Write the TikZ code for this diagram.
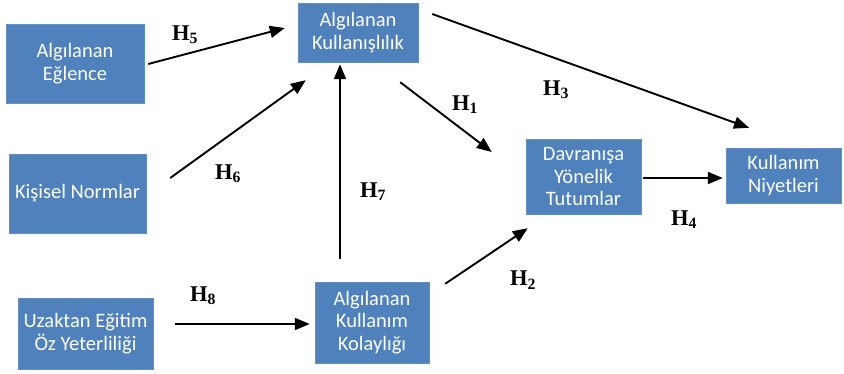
\documentclass[tikz,border=0pt]{standalone}
\usepackage{fontspec}
\setmainfont{Liberation Serif}
\setsansfont{Carlito}
\usepackage{tikz}
\usetikzlibrary{arrows.meta,positioning,calc}
\definecolor{boxblue}{RGB}{79,129,189}

\begin{document}
\begin{tikzpicture}[x=1pt,y=-1pt,
    box/.style={draw=boxblue!90!white,fill=boxblue,text=white,align=center,
      inner sep=0pt,font=\sffamily\fontsize{20.5}{22.5}\selectfont},
    arr/.style={-{Triangle[length=15pt,width=12pt]},line width=1.9pt},
    hlab/.style={font=\bfseries\fontsize{22.5}{24}\selectfont}
  ]
    \useasboundingbox (0,0) rectangle (844,373);
    \node[box,minimum width=138pt,minimum height=79pt] (eg) at (75,63.5) {Algılanan\\Eğlence};
    \node[box,minimum width=120pt,minimum height=59pt] (ku) at (358,32.5) {Algılanan\\Kullanışlılık};
    \node[box,minimum width=137pt,minimum height=79pt] (kn) at (77.5,193.5) {Kişisel Normlar};
    \node[box,minimum width=135pt,minimum height=71pt] (uz) at (85.5,333.5) {Uzaktan Eğitim\\Öz Yeterliliği};
    \node[box,minimum width=114pt,minimum height=81pt] (ko) at (372,322.5) {Algılanan\\Kullanım\\Kolaylığı};
    \node[box,minimum width=115pt,minimum height=75pt] (dt) at (583.5,176.5) {Davranışa\\Yönelik\\Tutumlar};
    \node[box,minimum width=115pt,minimum height=55pt] (kni) at (783.5,175.5) {Kullanım\\Niyetleri};
    \draw[arr] ([shift={(4,0.5)}]eg.east) -- ([shift={(-13,-4.5)}]ku.west);
    \draw[arr] ([shift={(24,-15.5)}]kn.east) -- ([shift={(8,18)}]ku.south west);
    \draw[arr] ([shift={(-32,-23)}]ko.north) -- ([shift={(-18,2)}]ku.south);
    \draw[arr] ([shift={(-18,20)}]ku.south east) -- ([shift={(-34,-24.5)}]dt.west);
    \draw[arr] ([shift={(14,-18.5)}]ku.east) -- ([shift={(-34.5,-20)}]kni.north);
    \draw[arr] ([shift={(2,1.5)}]dt.east) -- ([shift={(-3,2.5)}]kni.west);
    \draw[arr] ([shift={(16,2)}]ko.north east) -- ([shift={(2,14)}]dt.south west);
    \draw[arr] ([shift={(22,-9.5)}]uz.east) -- ([shift={(-5,1.5)}]ko.west);
    \node[hlab] (h5) at (185,35) {H\textsubscript{5}};
    \node[hlab] (h6) at (228,174) {H\textsubscript{6}};
    \node[hlab] (h7) at (373,192) {H\textsubscript{7}};
    \node[hlab] (h1) at (465,105) {H\textsubscript{1}};
    \node[hlab] (h3) at (556,90) {H\textsubscript{3}};
    \node[hlab] (h4) at (684,220) {H\textsubscript{4}};
    \node[hlab] (h2) at (523,280) {H\textsubscript{2}};
    \node[hlab] (h8) at (203,296) {H\textsubscript{8}};
  \end{tikzpicture}
\end{document}
